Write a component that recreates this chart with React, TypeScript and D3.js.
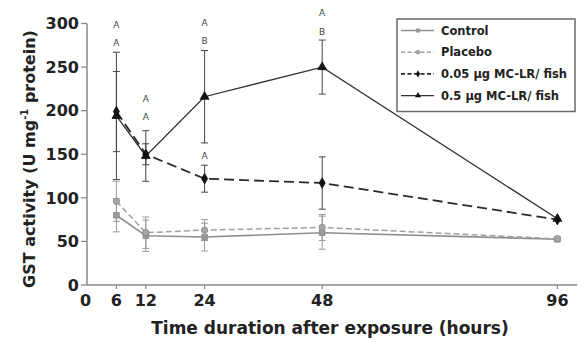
import React from "react";
import * as d3 from "d3";

const hours = [6, 12, 24, 48, 96];
const xTicks = [0, 6, 12, 24, 48, 96];
const yTicks = [0, 50, 100, 150, 200, 250, 300];

const seriesNames = ["Control", "Placebo", "0.05 µg MC-LR/ fish", "0.5 µg MC-LR/ fish"];
const controlValues = [80, 56.5, 55, 60, 52.5];
const controlErrors = [19, 18, 16, 19, 0];
const placeboValues = [96, 60, 63, 66, 53];
const placeboErrors = [23, 18, 12, 15, 0];
const low05Values = [199, 150, 122, 117, 75];
const low05Errors = [46, 12, 15.5, 30, 0];
const high05Values = [194, 148, 216, 250, 76];
const high05Errors = [73, 29, 53, 31, 0];

const letterText = ["A", "A", "A", "A", "A", "B", "A", "A", "B"];
const letterHours = [6, 6, 12, 12, 24, 24, 24, 48, 48];
const letterValues = [299, 278, 213, 193, 301, 280, 148, 312, 290];

const W = 579;
const H = 343;
const FONT = "'DejaVu Sans', Arial, sans-serif";

type Series = {
  name: string;
  values: number[];
  errors: number[];
  color: string;
  fill: string;
  dash: string;
  width: number;
  marker: "square" | "circle" | "diamond" | "triangle";
};

const series: Series[] = [
  { name: seriesNames[0], values: controlValues, errors: controlErrors, color: "#8f8f8f", fill: "#9a9a9a", dash: "", width: 1.6, marker: "square" },
  { name: seriesNames[1], values: placeboValues, errors: placeboErrors, color: "#a0a0a0", fill: "#a5a5a5", dash: "6,3", width: 1.5, marker: "circle" },
  { name: seriesNames[2], values: low05Values, errors: low05Errors, color: "#2a2a2a", fill: "#111", dash: "10,5", width: 1.8, marker: "diamond" },
  { name: seriesNames[3], values: high05Values, errors: high05Errors, color: "#333", fill: "#111", dash: "", width: 1.3, marker: "triangle" },
];

const symbolType = {
  square: d3.symbolSquare,
  circle: d3.symbolCircle,
  diamond: d3.symbolDiamond,
  triangle: d3.symbolTriangle,
};

export default function App() {
  const x = d3.scaleLinear().domain([0, 100]).range([87, 577]);
  const y = d3.scaleLinear().domain([0, 300]).range([285, 23.5]);
  const line = d3
    .line<number>()
    .x((_, i) => x(hours[i]))
    .y((v) => y(v));

  const markerPath = (m: Series["marker"], size: number) =>
    d3.symbol().type(symbolType[m]).size(size)() || "";

  const axisColor = "#8a8a8a";

  return (
    <svg
      width={W}
      height={H}
      style={{ position: "absolute", left: 0, top: 0, background: "#fff" }}
      fontFamily={FONT}
    >
      <rect x={0} y={0} width={W} height={H} fill="#fff" />

      {series.map((s) => (
        <g key={"err" + s.name} stroke={s.marker === "square" || s.marker === "circle" ? "#9a9a9a" : "#444"} strokeWidth={1}>
          {s.values.map((v, i) =>
            s.errors[i] > 0 ? (
              <g key={i}>
                <line x1={x(hours[i])} x2={x(hours[i])} y1={y(v - s.errors[i])} y2={y(v + s.errors[i])} />
                <line x1={x(hours[i]) - 3.5} x2={x(hours[i]) + 3.5} y1={y(v - s.errors[i])} y2={y(v - s.errors[i])} />
                <line x1={x(hours[i]) - 3.5} x2={x(hours[i]) + 3.5} y1={y(v + s.errors[i])} y2={y(v + s.errors[i])} />
              </g>
            ) : null
          )}
        </g>
      ))}

      {series.map((s) => (
        <path
          key={"line" + s.name}
          d={line(s.values) || ""}
          fill="none"
          stroke={s.color}
          strokeWidth={s.width}
          strokeDasharray={s.dash}
        />
      ))}

      {series.map((s) => (
        <g key={"mk" + s.name}>
          {s.values.map((v, i) => (
            <path
              key={i}
              d={markerPath(s.marker, s.marker === "triangle" ? 34 : 32)}
              transform={`translate(${x(hours[i])},${y(v)})`}
              fill={s.fill}
              stroke={s.marker === "square" || s.marker === "circle" ? "#888" : "#111"}
              strokeWidth={0.8}
            />
          ))}
        </g>
      ))}

      {letterText.map((t, i) => (
        <text
          key={"l" + i}
          x={x(letterHours[i])}
          y={y(letterValues[i])}
          dy="0.35em"
          textAnchor="middle"
          fontSize={9}
          fill="#444"
        >
          {t}
        </text>
      ))}

      <line x1={x(0)} x2={x(0)} y1={y(300)} y2={y(0)} stroke={axisColor} strokeWidth={1.5} />
      <line x1={x(0)} x2={x(100)} y1={y(0)} y2={y(0)} stroke={axisColor} strokeWidth={1.5} />
      {yTicks.map((t) => (
        <g key={"yt" + t}>
          <line x1={x(0) - 6} x2={x(0)} y1={y(t)} y2={y(t)} stroke={axisColor} strokeWidth={1.3} />
          <text x={79} y={y(t)} dy="0.36em" textAnchor="end" fontSize={16} fontWeight="bold" fill="#222">
            {t}
          </text>
        </g>
      ))}
      {xTicks.map((t) => (
        <g key={"xt" + t}>
          {t > 0 && <line x1={x(t)} x2={x(t)} y1={y(0)} y2={y(0) + 4} stroke={axisColor} strokeWidth={1.3} />}
          <text x={x(t) - (t === 0 ? 1.5 : 0)} y={306} textAnchor="middle" fontSize={16} fontWeight="bold" fill="#222">
            {t}
          </text>
        </g>
      ))}

      <text x={330} y={334} textAnchor="middle" fontSize={17} fontWeight="bold" fill="#222">
        Time duration after exposure (hours)
      </text>
      <text
        transform="translate(35,159) rotate(-90)"
        textAnchor="middle"
        fontSize={16}
        fontWeight="bold"
        fill="#222"
      >
        GST activity (U mg
        <tspan fontSize={10} dy={-7}>-1</tspan>
        <tspan dy={7}> protein)</tspan>
      </text>

      <rect x={397} y={19} width={178} height={92.5} fill="#fff" stroke="#6a6a6a" strokeWidth={1.5} />
      {series.map((s, i) => {
        const ly = 30.5 + i * 21.7;
        return (
          <g key={"lg" + s.name}>
            <line x1={401} x2={434} y1={ly} y2={ly} stroke={s.color} strokeWidth={s.width} strokeDasharray={s.dash ? "4,2.5" : ""} />
            <path
              d={markerPath(s.marker, 12)}
              transform={`translate(418,${ly})`}
              fill={s.fill}
              stroke={s.marker === "square" || s.marker === "circle" ? "#888" : "#111"}
              strokeWidth={0.5}
            />
            <text x={441} y={ly} dy="0.36em" fontSize={11.5} fontWeight="bold" fill="#222">
              {s.name}
            </text>
          </g>
        );
      })}
    </svg>
  );
}
